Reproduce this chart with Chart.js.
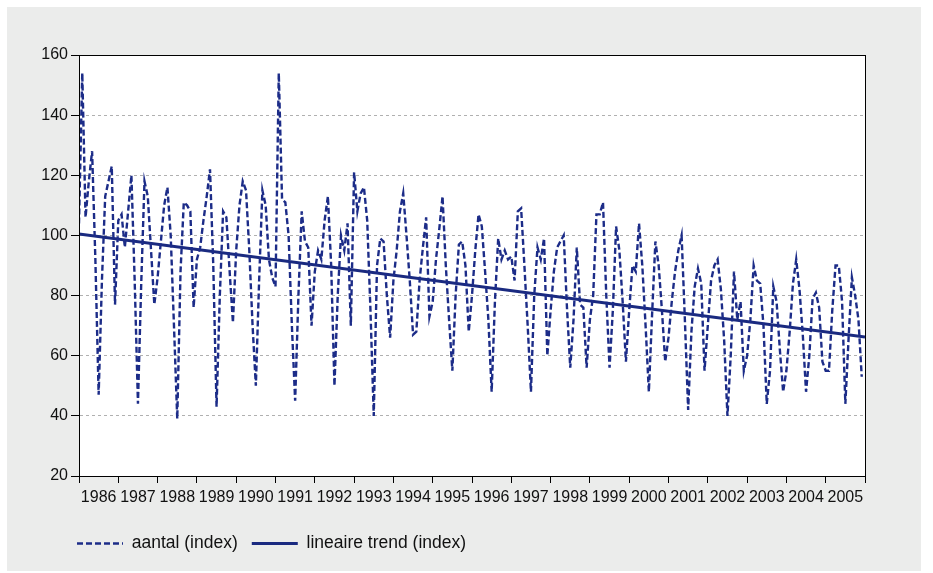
<!DOCTYPE html>
<html>
<head>
<meta charset="utf-8">
<script src="https://cdn.jsdelivr.net/npm/chart.js@4.4.0/dist/chart.umd.min.js"></script>
<style>
    html, body { margin: 0; padding: 0; background: #ffffff; overflow: hidden; }
    #kader { position: absolute; left: 7px; top: 7px; width: 914px; height: 564px; background: #ebeceb; }
    #grafiek { position: absolute; left: 7px; top: 7px; }
</style>
</head>
<body>
<div id="kader"></div>
<canvas id="grafiek" width="914" height="571"></canvas>
<script>
// Jaren op de x-as
let jaren = [1986, 1987, 1988, 1989, 1990, 1991, 1992, 1993, 1994, 1995,
    1996, 1997, 1998, 1999, 2000, 2001, 2002, 2003, 2004, 2005];

// Maandcijfers aantal (index), jan t/m dec per jaar
let aantal = [
    104, 154, 106, 118, 128, 92, 47, 85, 113, 118, 123, 77,   // 1986
    105, 107, 96, 108, 120, 85, 44, 84, 118, 113, 95, 77,     // 1987
    86, 98, 110, 116, 100, 70, 39, 88, 111, 110, 108, 76,     // 1988
    92, 96, 105, 113, 122, 90, 43, 80, 108, 106, 88, 71,      // 1989
    95, 110, 118, 115, 95, 70, 50, 85, 115, 110, 92, 86,      // 1990
    83, 154, 112, 111, 100, 70, 45, 80, 108, 98, 96, 70,      // 1991
    88, 95, 92, 105, 113, 90, 50, 80, 100, 95, 104, 70,       // 1992
    121, 108, 114, 116, 105, 75, 40, 90, 99, 98, 80, 66,      // 1993
    85, 95, 108, 114, 100, 85, 67, 68, 85, 96, 106, 73,       // 1994
    78, 92, 102, 113, 90, 72, 55, 80, 97, 98, 90, 68,         // 1995
    80, 95, 107, 103, 88, 72, 48, 78, 99, 92, 95, 92,         // 1996
    93, 85, 108, 109, 90, 70, 48, 80, 96, 92, 99, 60,         // 1997
    75, 88, 96, 98, 100, 76, 56, 72, 96, 77, 76, 56,          // 1998
    72, 80, 107, 107, 111, 80, 56, 75, 103, 95, 78, 58,       // 1999
    75, 90, 88, 104, 90, 70, 48, 74, 98, 90, 75, 58,          // 2000
    66, 78, 88, 95, 100, 72, 42, 68, 83, 89, 84, 55,          // 2001
    70, 85, 90, 92, 82, 65, 40, 60, 88, 72, 78, 55,           // 2002
    60, 72, 90, 85, 84, 70, 44, 55, 83, 78, 62, 48,           // 2003
    55, 68, 84, 92, 82, 67, 48, 60, 79, 81, 76, 58,           // 2004
    55, 55, 75, 90, 90, 78, 44, 66, 86, 80, 72, 53            // 2005
];

// Lineaire trend: begin- en eindpunt (maandnummer, index)
let trendMaand = [0, 240];
let trendWaarde = [100.5, 66.2];

const lettertype = "'Liberation Sans', Arial, sans-serif";

// Witte plotvlakte, zwart kader en legenda iets naar rechts
const plotKader = {
    id: "plotKader",
    afterLayout(chart) {
        const lg = chart.legend;
        const dx = 56 - lg.left;
        lg.left += dx;
        lg.right += dx;
    },
    beforeDraw(chart) {
        const { ctx, chartArea: a } = chart;
        ctx.save();
        ctx.fillStyle = "#ffffff";
        ctx.fillRect(a.left, a.top, a.right - a.left, a.bottom - a.top);
        ctx.restore();
    },
    afterDraw(chart) {
        const { ctx, chartArea: a } = chart;
        ctx.save();
        ctx.strokeStyle = "#000000";
        ctx.lineWidth = 1;
        ctx.strokeRect(Math.round(a.left) + 0.5, Math.round(a.top) + 0.5,
            Math.round(a.right - a.left), Math.round(a.bottom - a.top));
        ctx.restore();
    }
};

// Gegevens
let dadosAantal = {
    datasets: [{
        label: "aantal (index)",
        data: aantal.map((v, i) => ({ x: i, y: v })),
        borderColor: "#1c2c88",
        borderWidth: 2.4,
        borderDash: [6, 3],
        pointRadius: 0,
        tension: 0,
        fill: false
    },
    {
        label: "lineaire trend (index)",
        data: trendMaand.map((m, k) => ({ x: m, y: trendWaarde[k] })),
        borderColor: "#1a2a80",
        borderWidth: 3,
        pointRadius: 0,
        tension: 0,
        fill: false
    }]
};

// Legenda: lijnstijl van de dataset overnemen
const legendaLabels = (chart) =>
    Chart.defaults.plugins.legend.labels.generateLabels(chart).map((l) => {
        const ds = chart.data.datasets[l.datasetIndex];
        l.lineDash = ds.borderDash || [];
        l.lineWidth = ds.borderWidth;
        l.strokeStyle = ds.borderColor;
        return l;
    });

const configAantal = {
    type: "line",
    data: dadosAantal,
    plugins: [plotKader],
    options: {
        responsive: false,
        animation: false,
        layout: { padding: { left: 0, top: 48, right: 56, bottom: 15.75 } },
        plugins: {
            tooltip: { enabled: false },
            legend: {
                position: "bottom",
                align: "start",
                labels: {
                    usePointStyle: true,
                    pointStyle: "line",
                    pointStyleWidth: 46,
                    padding: 14,
                    color: "#111111",
                    font: { family: lettertype, size: 17.5 },
                    generateLabels: legendaLabels
                }
            }
        },
        scales: {
            x: {
                type: "linear",
                min: 0,
                max: 240,
                afterFit: (s) => { s.height = 44.75; },
                grid: {
                    drawOnChartArea: false,
                    tickLength: 7,
                    tickColor: (c) => (c.tick && c.tick.value % 12 === 0) ? "#000000" : "rgba(0,0,0,0)"
                },
                border: { color: "#000000", width: 1 },
                ticks: {
                    stepSize: 6,
                    autoSkip: false,
                    maxRotation: 0,
                    padding: 5,
                    color: "#111111",
                    font: { family: lettertype, size: 16 },
                    callback: (v) => v % 12 === 6 ? String(jaren[(v - 6) / 12]) : ""
                }
            },
            y: {
                min: 20,
                max: 160,
                afterFit: (s) => { s.width = 72; },
                grid: {
                    color: "#b0b0b0",
                    tickLength: 8,
                    tickColor: "#000000",
                    tickBorderDash: []
                },
                border: { color: "#000000", width: 1, dash: [3, 3] },
                ticks: {
                    stepSize: 20,
                    padding: 3,
                    color: "#111111",
                    font: { family: lettertype, size: 16 }
                }
            }
        }
    }
};

let grafiekAantal = new Chart(
    document.getElementById("grafiek"),
    configAantal
);
</script>
</body>
</html>
